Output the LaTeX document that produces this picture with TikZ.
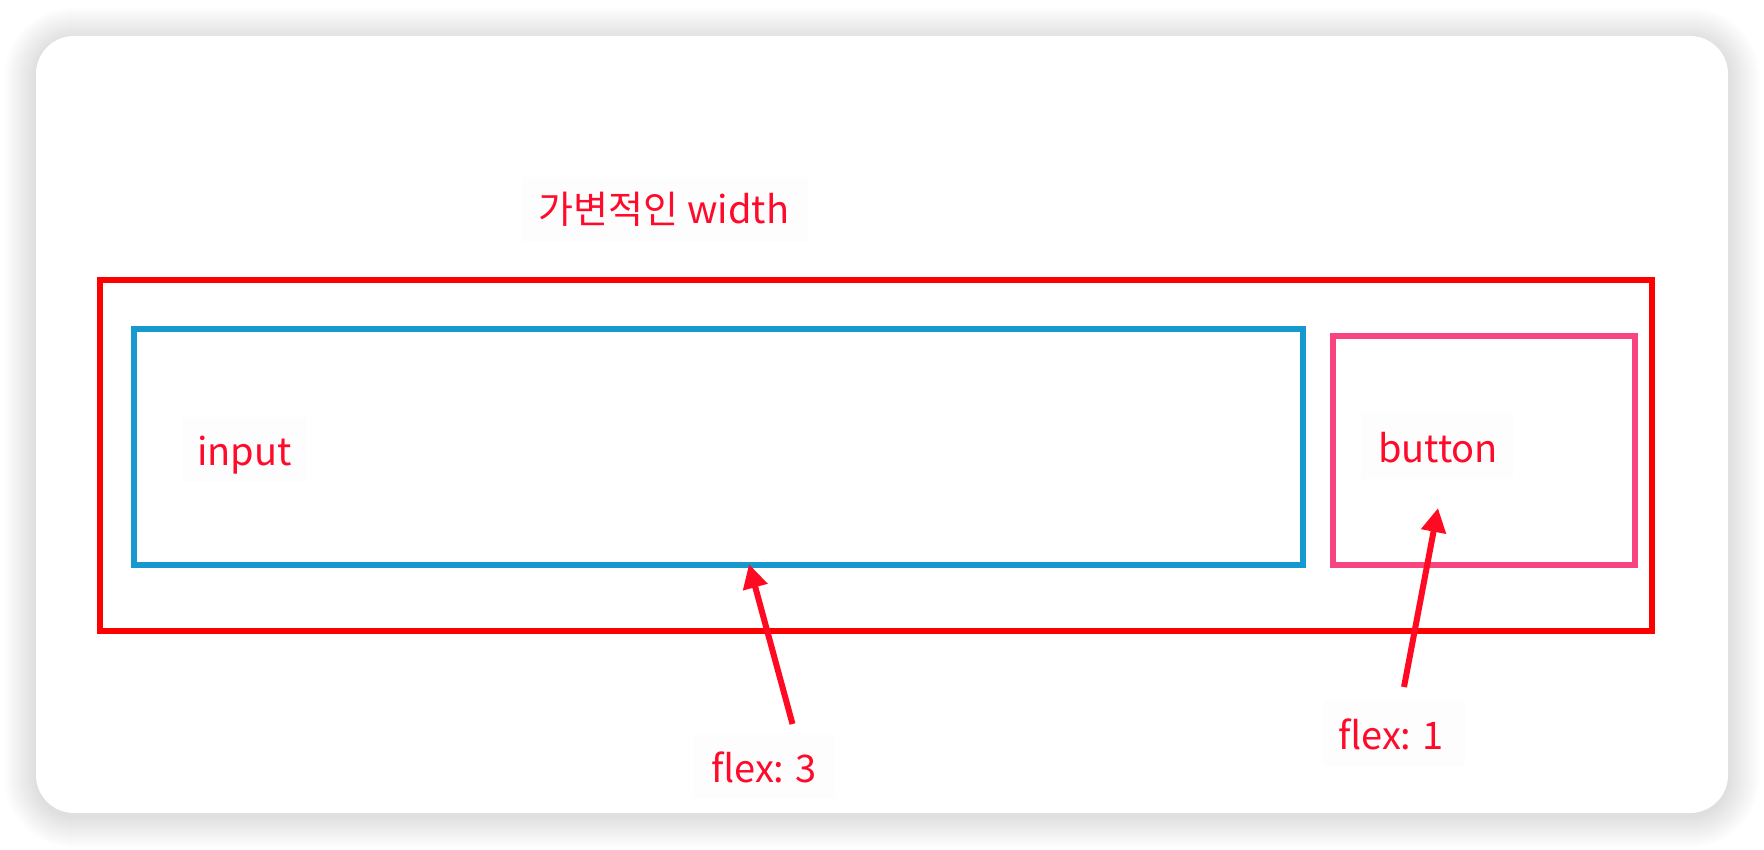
\documentclass[tikz,border=0pt]{standalone}
\usepackage{fontspec}
\setmainfont{Noto Sans CJK KR}
\usetikzlibrary{arrows.meta}
\definecolor{outerred}{HTML}{FF0000}
\definecolor{txtred}{HTML}{FF0A2A}
\definecolor{arrred}{HTML}{FF0A22}
\definecolor{inblue}{HTML}{1699CF}
\definecolor{btnpink}{HTML}{F8457F}
\definecolor{boxgray}{HTML}{FDFDFD}
\tikzset{
  lbl/.style={text=txtred, font=\fontsize{38}{44}\selectfont, anchor=base, inner sep=0pt},
  frame/.style={line width=6pt, inner sep=0pt, outer sep=0pt, anchor=north west},
  flexarrow/.style={draw=arrred, line width=6pt, -{Triangle[length=24pt,width=24pt]}},
}
\begin{document}
\begin{tikzpicture}[x=1pt,y=-1pt]
\useasboundingbox (0,0) rectangle (1764,850);
\fill[white] (0,0) rectangle (1764,850);
% shadow
\foreach \i in {1,...,32}{
  \fill[black, opacity=0.004, rounded corners=38+\i] (36-\i,36-\i+3) rectangle (1728+\i,813+\i+3);
}
% card
\fill[white, rounded corners=38] (36,36) rectangle (1728,813);
% faint label boxes
\fill[boxgray] (522,177) rectangle (808,242);
\fill[boxgray] (182,417) rectangle (307,482);
\fill[boxgray] (1361,413) rectangle (1513,479);
\fill[boxgray] (693,735) rectangle (835,798);
\fill[boxgray] (1323,701) rectangle (1465,766);
% frames
\node[draw=outerred, frame, minimum width=1552pt, minimum height=351pt] (outerbox) at (99.5,280) {};
\node[draw=inblue, frame, minimum width=1169pt, minimum height=236.5pt] (inputbox) at (134,328.5) {};
\node[draw=btnpink, frame, minimum width=302.5pt, minimum height=229pt] (btnbox) at (1332.5,336) {};
% labels
\node[lbl] (title) at (664,224) {가변적인 width};
\node[lbl] (inputlbl) at (244.5,465.5) {input};
\node[lbl] (btnlbl) at (1438,462.5) {button};
\node[lbl] (flex3) at (764,782) {flex: 3};
\node[lbl] (flex1) at (1391,749) {flex: 1};
% arrows
\coordinate (a1s) at (792.5,724);
\coordinate (a1e) at (749,564);
\coordinate (a2s) at (1404,687);
\coordinate (a2e) at (1438,508);
\draw[flexarrow] (a1s) -- (a1e);
\draw[flexarrow] (a2s) -- (a2e);
\end{tikzpicture}
\end{document}
